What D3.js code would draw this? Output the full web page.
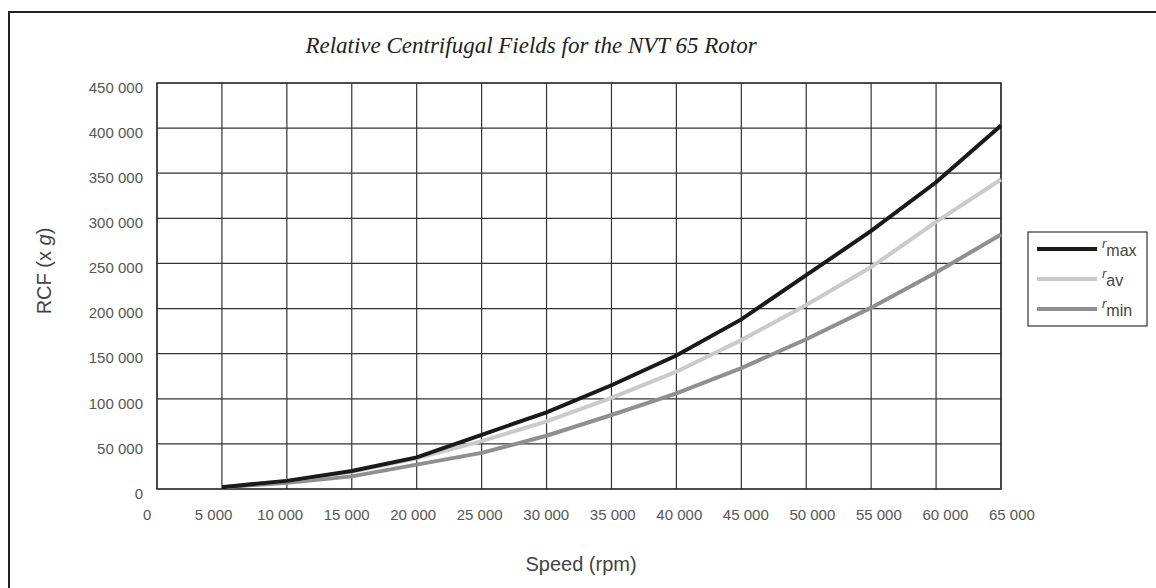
<!DOCTYPE html>
<html>
<head>
<meta charset="utf-8">
<script src="https://cdn.jsdelivr.net/npm/d3@7"></script>
<style>
  body { margin: 0; background: #fff; }
  text { font-family: "Liberation Sans", Arial, sans-serif; }
</style>
</head>
<body>
<script>
// chart data
var speeds = [5000, 10000, 15000, 20000, 25000, 30000, 35000, 40000, 45000, 50000, 55000, 60000, 65000];
var rMax = [2000, 9000, 20000, 35000, 60000, 85000, 115000, 148000, 188000, 237000, 286000, 340000, 403000];
var rAv  = [2000, 9000, 19000, 34000, 53000, 75000, 101000, 130000, 165000, 204000, 246000, 296000, 343000];
var rMin = [2000, 7000, 14000, 27000, 40000, 59000, 82000, 106000, 134000, 166000, 201000, 240000, 282000];
var xTicks = d3.range(0, 65001, 5000);
var yTicks = d3.range(0, 450001, 50000);
var seriesNames = ["max", "av", "min"];

function main() {
    var width = 1156, height = 588;
    var margin = {left: 157, top: 83, right: 1001, bottom: 489};

    var svg = d3.select("body").append("svg")
        .attr("width", width)
        .attr("height", height);

    // outer frame (runs off the right and bottom edge)
    svg.append("rect")
        .attr("x", 9).attr("y", 12)
        .attr("width", 1200).attr("height", 700)
        .attr("fill", "none")
        .attr("stroke", "#222")
        .attr("stroke-width", 2);

    var x = d3.scaleLinear().domain([0, 65000]).range([margin.left, margin.right]);
    var y = d3.scaleLinear().domain([0, 450000]).range([margin.bottom, margin.top]);

    var fmt = function (d) { return d3.format(",")(d).replace(/,/g, " "); };

    // grid
    var grid = svg.append("g");
    grid.selectAll(".vg").data(xTicks).enter().append("line")
        .attr("x1", d => x(d)).attr("x2", d => x(d))
        .attr("y1", margin.top).attr("y2", margin.bottom)
        .attr("stroke", "#333").attr("stroke-width", 1.2);
    grid.selectAll(".hg").data(yTicks).enter().append("line")
        .attr("x1", margin.left).attr("x2", margin.right)
        .attr("y1", d => y(d)).attr("y2", d => y(d))
        .attr("stroke", "#333").attr("stroke-width", 1.2);
    svg.append("rect")
        .attr("x", margin.left).attr("y", margin.top)
        .attr("width", margin.right - margin.left)
        .attr("height", margin.bottom - margin.top)
        .attr("fill", "none").attr("stroke", "#333").attr("stroke-width", 1.5);

    // axes (labels only, the grid does the lines)
    var xAxis = svg.append("g")
        .attr("transform", "translate(0," + margin.bottom + ")")
        .call(d3.axisBottom(x).tickValues(xTicks).tickFormat(fmt).tickSize(0).tickPadding(20));
    var yAxis = svg.append("g")
        .attr("transform", "translate(" + margin.left + ",0)")
        .call(d3.axisLeft(y).tickValues(yTicks).tickFormat(fmt).tickSize(0).tickPadding(14));
    [xAxis, yAxis].forEach(function (ax) {
        ax.select(".domain").remove();
        ax.selectAll("text")
            .attr("fill", "#555")
            .style("font-size", "15px")
            .style("font-family", "'Liberation Sans', Arial, sans-serif");
    });
    yAxis.selectAll("text").attr("dy", "0.62em");
    // labels in the reference drift a little relative to the grid
    xAxis.selectAll("text").attr("dx", function (d) { return (d / 5000 - 6.5) * 1.6; });

    // lines
    var colors = {max: "#1a1a1a", av: "#cacaca", min: "#8f8f90"};
    var values = {max: rMax, av: rAv, min: rMin};
    var line = d3.line().x(d => x(d[0])).y(d => y(d[1]));

    ["min", "av", "max"].forEach(function (s) {
        svg.append("path")
            .datum(speeds.map((v, i) => [v, values[s][i]]))
            .attr("d", line)
            .attr("fill", "none")
            .attr("stroke", colors[s])
            .attr("stroke-width", 4);
    });

    // title
    svg.append("text")
        .attr("x", 531).attr("y", 53)
        .attr("text-anchor", "middle")
        .style("font-family", "'Liberation Serif', 'Times New Roman', serif")
        .style("font-style", "italic")
        .style("font-size", "23px")
        .attr("fill", "#222")
        .text("Relative Centrifugal Fields for the NVT 65 Rotor");

    // axis titles
    svg.append("text")
        .attr("x", 581).attr("y", 571)
        .attr("text-anchor", "middle")
        .style("font-size", "20px")
        .attr("fill", "#444")
        .text("Speed (rpm)");

    var yt = svg.append("text")
        .attr("transform", "translate(51,271) rotate(-90)")
        .attr("text-anchor", "middle")
        .style("font-size", "20px")
        .attr("fill", "#444");
    yt.append("tspan").text("RCF (x ");
    yt.append("tspan").style("font-style", "italic").text("g");
    yt.append("tspan").text(")");

    // legend
    var lg = svg.append("g");
    lg.append("rect")
        .attr("x", 1028).attr("y", 232)
        .attr("width", 119).attr("height", 94)
        .attr("fill", "#fff").attr("stroke", "#333").attr("stroke-width", 1.2);
    var rowY = d3.scalePoint().domain(seriesNames).range([249, 309]);
    seriesNames.forEach(function (s) {
        lg.append("line")
            .attr("x1", 1037).attr("x2", 1097)
            .attr("y1", rowY(s)).attr("y2", rowY(s))
            .attr("stroke", colors[s]).attr("stroke-width", 4);
        var t = lg.append("text")
            .attr("x", 1102).attr("y", rowY(s) + 3)
            .attr("fill", "#444");
        t.append("tspan").style("font-style", "italic").style("font-size", "13px")
            .attr("dy", -4).text("r");
        t.append("tspan").style("font-size", "16px").attr("dy", 8).text(s);
    });
}

window.onload = main;
</script>
</body>
</html>
